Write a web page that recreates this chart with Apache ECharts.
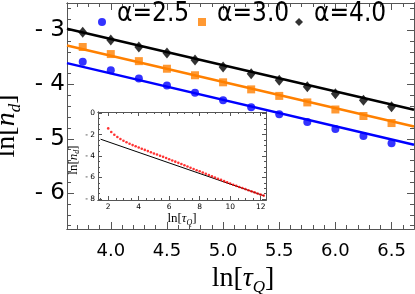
<!DOCTYPE html>
<html><head><meta charset="utf-8">
<script src="https://cdn.jsdelivr.net/npm/echarts@6/dist/echarts.min.js"></script>
<style>html,body{margin:0;padding:0;background:#fff}#c{width:415px;height:294px}</style>
</head><body><div id="c"></div>
<script>
// ---- data ----
const lnTau = [3.75, 4.0, 4.25, 4.5, 4.75, 5.0, 5.25, 5.5, 5.75, 6.0, 6.25, 6.5];
const nd25 = [-3.58, -3.74, -3.89, -4.02, -4.15, -4.29, -4.42, -4.55, -4.69, -4.82, -4.95, -5.08];
const nd30 = [-3.31, -3.44, -3.57, -3.71, -3.83, -3.96, -4.09, -4.21, -4.33, -4.46, -4.58, -4.71];
const nd40 = [-3.04, -3.18, -3.31, -3.42, -3.55, -3.68, -3.80, -3.92, -4.04, -4.17, -4.29, -4.41];
const fitX = [3.61, 6.70];
const fit25 = [-3.607, -5.110];
const fit30 = [-3.281, -4.773];
const fit40 = [-2.974, -4.465];
const seriesNames = ['α=2.5', 'α=3.0', 'α=4.0'];
const xTickLabels = [4.0, 4.5, 5.0, 5.5, 6.0, 6.5];
const yTickLabels = [-3, -4, -5, -6];

const insetX = [2.0, 2.2, 2.4, 2.6, 2.8, 3.0, 3.2, 3.4, 3.6, 3.8, 4.0, 4.2, 4.4, 4.6, 4.8,
  5.0, 5.2, 5.4, 5.6, 5.8, 6.0, 6.2, 6.4, 6.6, 6.8, 7.0, 7.2, 7.4, 7.6, 7.8, 8.0, 8.2, 8.4, 8.6, 8.8,
  9.0, 9.2, 9.4, 9.6, 9.8, 10.0, 10.2, 10.4, 10.6, 10.8, 11.0, 11.2, 11.4, 11.6, 11.8, 12.0, 12.2];
const insetRed = [-1.41, -1.75, -2.00, -2.21, -2.40, -2.56, -2.71, -2.84, -2.97, -3.08,
  -3.20, -3.31, -3.42, -3.53, -3.64, -3.75, -3.85, -3.96, -4.07, -4.18,
  -4.29, -4.41, -4.52, -4.63, -4.74, -4.86, -4.97, -5.09, -5.20, -5.32,
  -5.42, -5.54, -5.65, -5.77, -5.89, -6.00, -6.12, -6.22, -6.34, -6.45,
  -6.56, -6.67, -6.78, -6.88, -6.98, -7.08, -7.19, -7.29, -7.39, -7.50, -7.60, -7.69];
const insetLineX = [1.5, 12.23];
const insetLineY = [-2.42, -7.71];
const insetXTickLabels = [2, 4, 6, 8, 10, 12];
const insetYTickLabels = [0, -2, -4, -6, -8];

// ---- helpers ----
function steps(a, b, s) { const o = []; const n = Math.round((b - a) / s); for (let i = 0; i <= n; i++) o.push(+(a + i * s).toFixed(4)); return o; }
const xMinor = steps(3.7, 6.7, 0.1);
const yMinor = steps(-6.6, -2.6, 0.2);
const ixMinor = steps(1.5, 12, 0.5);
const iyMinor = steps(-8, 0, 0.5);
const frame = '#555';
const zip = (a, b) => a.map((v, i) => [v, b[i]]);
const negFmt = v => v < 0 ? '- ' + Math.abs(v) : String(v);

function ax(gridIndex, position, min, max, ticks, len, extra) {
  return Object.assign({
    type: 'value', gridIndex, position, min, max,
    splitLine: { show: false },
    axisLine: { show: true, onZero: false, lineStyle: { color: frame, width: 1 } },
    axisTick: { show: true, inside: true, length: len, customValues: ticks, lineStyle: { color: frame, width: 1 } },
    axisLabel: { show: false },
    axisPointer: { show: false }
  }, extra || {});
}
function nameRich(big, sub) {
  return {
    r: { fontFamily: 'Liberation Serif', fontSize: big, lineHeight: Math.round(big * 1.2), color: '#000' },
    i: { fontFamily: 'Liberation Serif', fontStyle: 'italic', fontSize: big, lineHeight: Math.round(big * 1.2), color: '#000' },
    s: { fontFamily: 'Liberation Serif', fontStyle: 'italic', fontSize: sub, lineHeight: sub, verticalAlign: 'bottom', color: '#000' }
  };
}

const XR = [3.61, 6.70], YR = [-6.66, -2.50];
const IXR = [1.33, 12.35], IYR = [-8.1, 0.12];

const xAxes = [
  ax(0, 'bottom', XR[0], XR[1], xTickLabels, 7, {
    axisLabel: { show: true, customValues: xTickLabels, formatter: v => v.toFixed(1), margin: 13,
      fontFamily: 'DejaVu Sans', fontSize: 18, color: '#000' },
    name: '{r|ln[}{i|τ}{s|Q}{r|]}', nameLocation: 'middle', nameGap: 24,
    nameTextStyle: { rich: nameRich(28, 17), padding: [0, 0, 0, 5] }
  }),
  ax(0, 'bottom', XR[0], XR[1], xMinor, 4),
  ax(0, 'top', XR[0], XR[1], xTickLabels, 7),
  ax(0, 'top', XR[0], XR[1], xMinor, 4),
  ax(1, 'bottom', IXR[0], IXR[1], insetXTickLabels, 4, {
    axisLabel: { show: true, customValues: insetXTickLabels, margin: 3,
      fontFamily: 'DejaVu Sans', fontSize: 7.5, color: '#000' },
    name: '{r|ln[}{i|τ}{s|Q}{r|]}', nameLocation: 'middle', nameGap: 7,
    nameTextStyle: { rich: nameRich(13, 8) }
  }),
  ax(1, 'bottom', IXR[0], IXR[1], ixMinor, 2),
  ax(1, 'top', IXR[0], IXR[1], insetXTickLabels, 4),
  ax(1, 'top', IXR[0], IXR[1], ixMinor, 2)
];
const yAxes = [
  ax(0, 'left', YR[0], YR[1], yTickLabels, 7, {
    axisLabel: { show: true, customValues: yTickLabels, formatter: negFmt, margin: 2,
      fontFamily: 'DejaVu Sans', fontSize: 23, color: '#000' },
    name: '{r|ln[}{i|n}{s|d}{r|]}', nameLocation: 'middle', nameGap: 30,
    nameTextStyle: { rich: nameRich(28, 17), padding: [0, 20, 0, 0] }
  }),
  ax(0, 'left', YR[0], YR[1], yMinor, 4),
  ax(0, 'right', YR[0], YR[1], yTickLabels, 7),
  ax(0, 'right', YR[0], YR[1], yMinor, 4),
  ax(1, 'left', IYR[0], IYR[1], insetYTickLabels, 4, {
    axisLabel: { show: true, customValues: insetYTickLabels, formatter: negFmt, margin: 3,
      fontFamily: 'DejaVu Sans', fontSize: 7.5, color: '#000' },
    name: '{r|ln[}{i|n}{s|d}{r|]}', nameLocation: 'middle', nameGap: 5,
    nameTextStyle: { rich: nameRich(13, 8), padding: [0, 8, 0, 0] }
  }),
  ax(1, 'left', IYR[0], IYR[1], iyMinor, 2),
  ax(1, 'right', IYR[0], IYR[1], insetYTickLabels, 4),
  ax(1, 'right', IYR[0], IYR[1], iyMinor, 2)
];

const colors = ['#0000ff', '#ff8000', '#000000'];
const symbols = ['circle', 'rect', 'diamond'];
const symSizes = [8, 8, [9, 11]];
const pts = [nd25, nd30, nd40];
const fits = [fit25, fit30, fit40];
const legendLeft = [98, 198, 295];

const series = [];
for (let k = 0; k < 3; k++) {
  series.push({
    type: 'line', xAxisIndex: 0, yAxisIndex: 0, data: zip(fitX, fits[k]), showSymbol: false,
    lineStyle: { color: colors[k], width: 2.5 }, z: 2, silent: true
  });
}
for (let k = 0; k < 3; k++) {
  series.push({
    name: seriesNames[k], type: 'scatter', xAxisIndex: 0, yAxisIndex: 0, data: zip(lnTau, pts[k]),
    symbol: symbols[k], symbolSize: symSizes[k], itemStyle: { color: colors[k] }, z: 3
  });
}
series.push({
  type: 'line', xAxisIndex: 4, yAxisIndex: 4, data: zip(insetLineX, insetLineY), showSymbol: false,
  lineStyle: { color: '#000', width: 1 }, z: 5, silent: true
});
series.push({
  type: 'scatter', xAxisIndex: 4, yAxisIndex: 4, data: zip(insetX, insetRed),
  symbol: 'circle', symbolSize: 2.6, itemStyle: { color: '#ff0000' }, z: 6
});

const option = {
  animation: false,
  backgroundColor: '#fff',
  grid: [
    { left: 67, top: 3, width: 347, height: 226, outerBoundsMode: 'none', containLabel: false },
    { left: 98, top: 112, width: 168, height: 88, outerBoundsMode: 'none', containLabel: false }
  ],
  legend: seriesNames.map((n, i) => ({
    data: [{ name: n, icon: symbols[i] }], left: legendLeft[i], top: 1, padding: 0,
    itemWidth: 8, itemHeight: 8, selectedMode: false,
    formatter: nm => '{a|' + nm + '}',
    textStyle: {
      rich: { a: { fontFamily: 'DejaVu Sans Condensed, DejaVu Sans', fontSize: 26, lineHeight: 30,
        color: '#000', padding: [0, 0, 16, 6] } }
    }
  })),
  xAxis: xAxes,
  yAxis: yAxes,
  series
};
const chart = echarts.init(document.getElementById('c'), null, { renderer: 'canvas' });
chart.setOption(option);
</script>
</body></html>
